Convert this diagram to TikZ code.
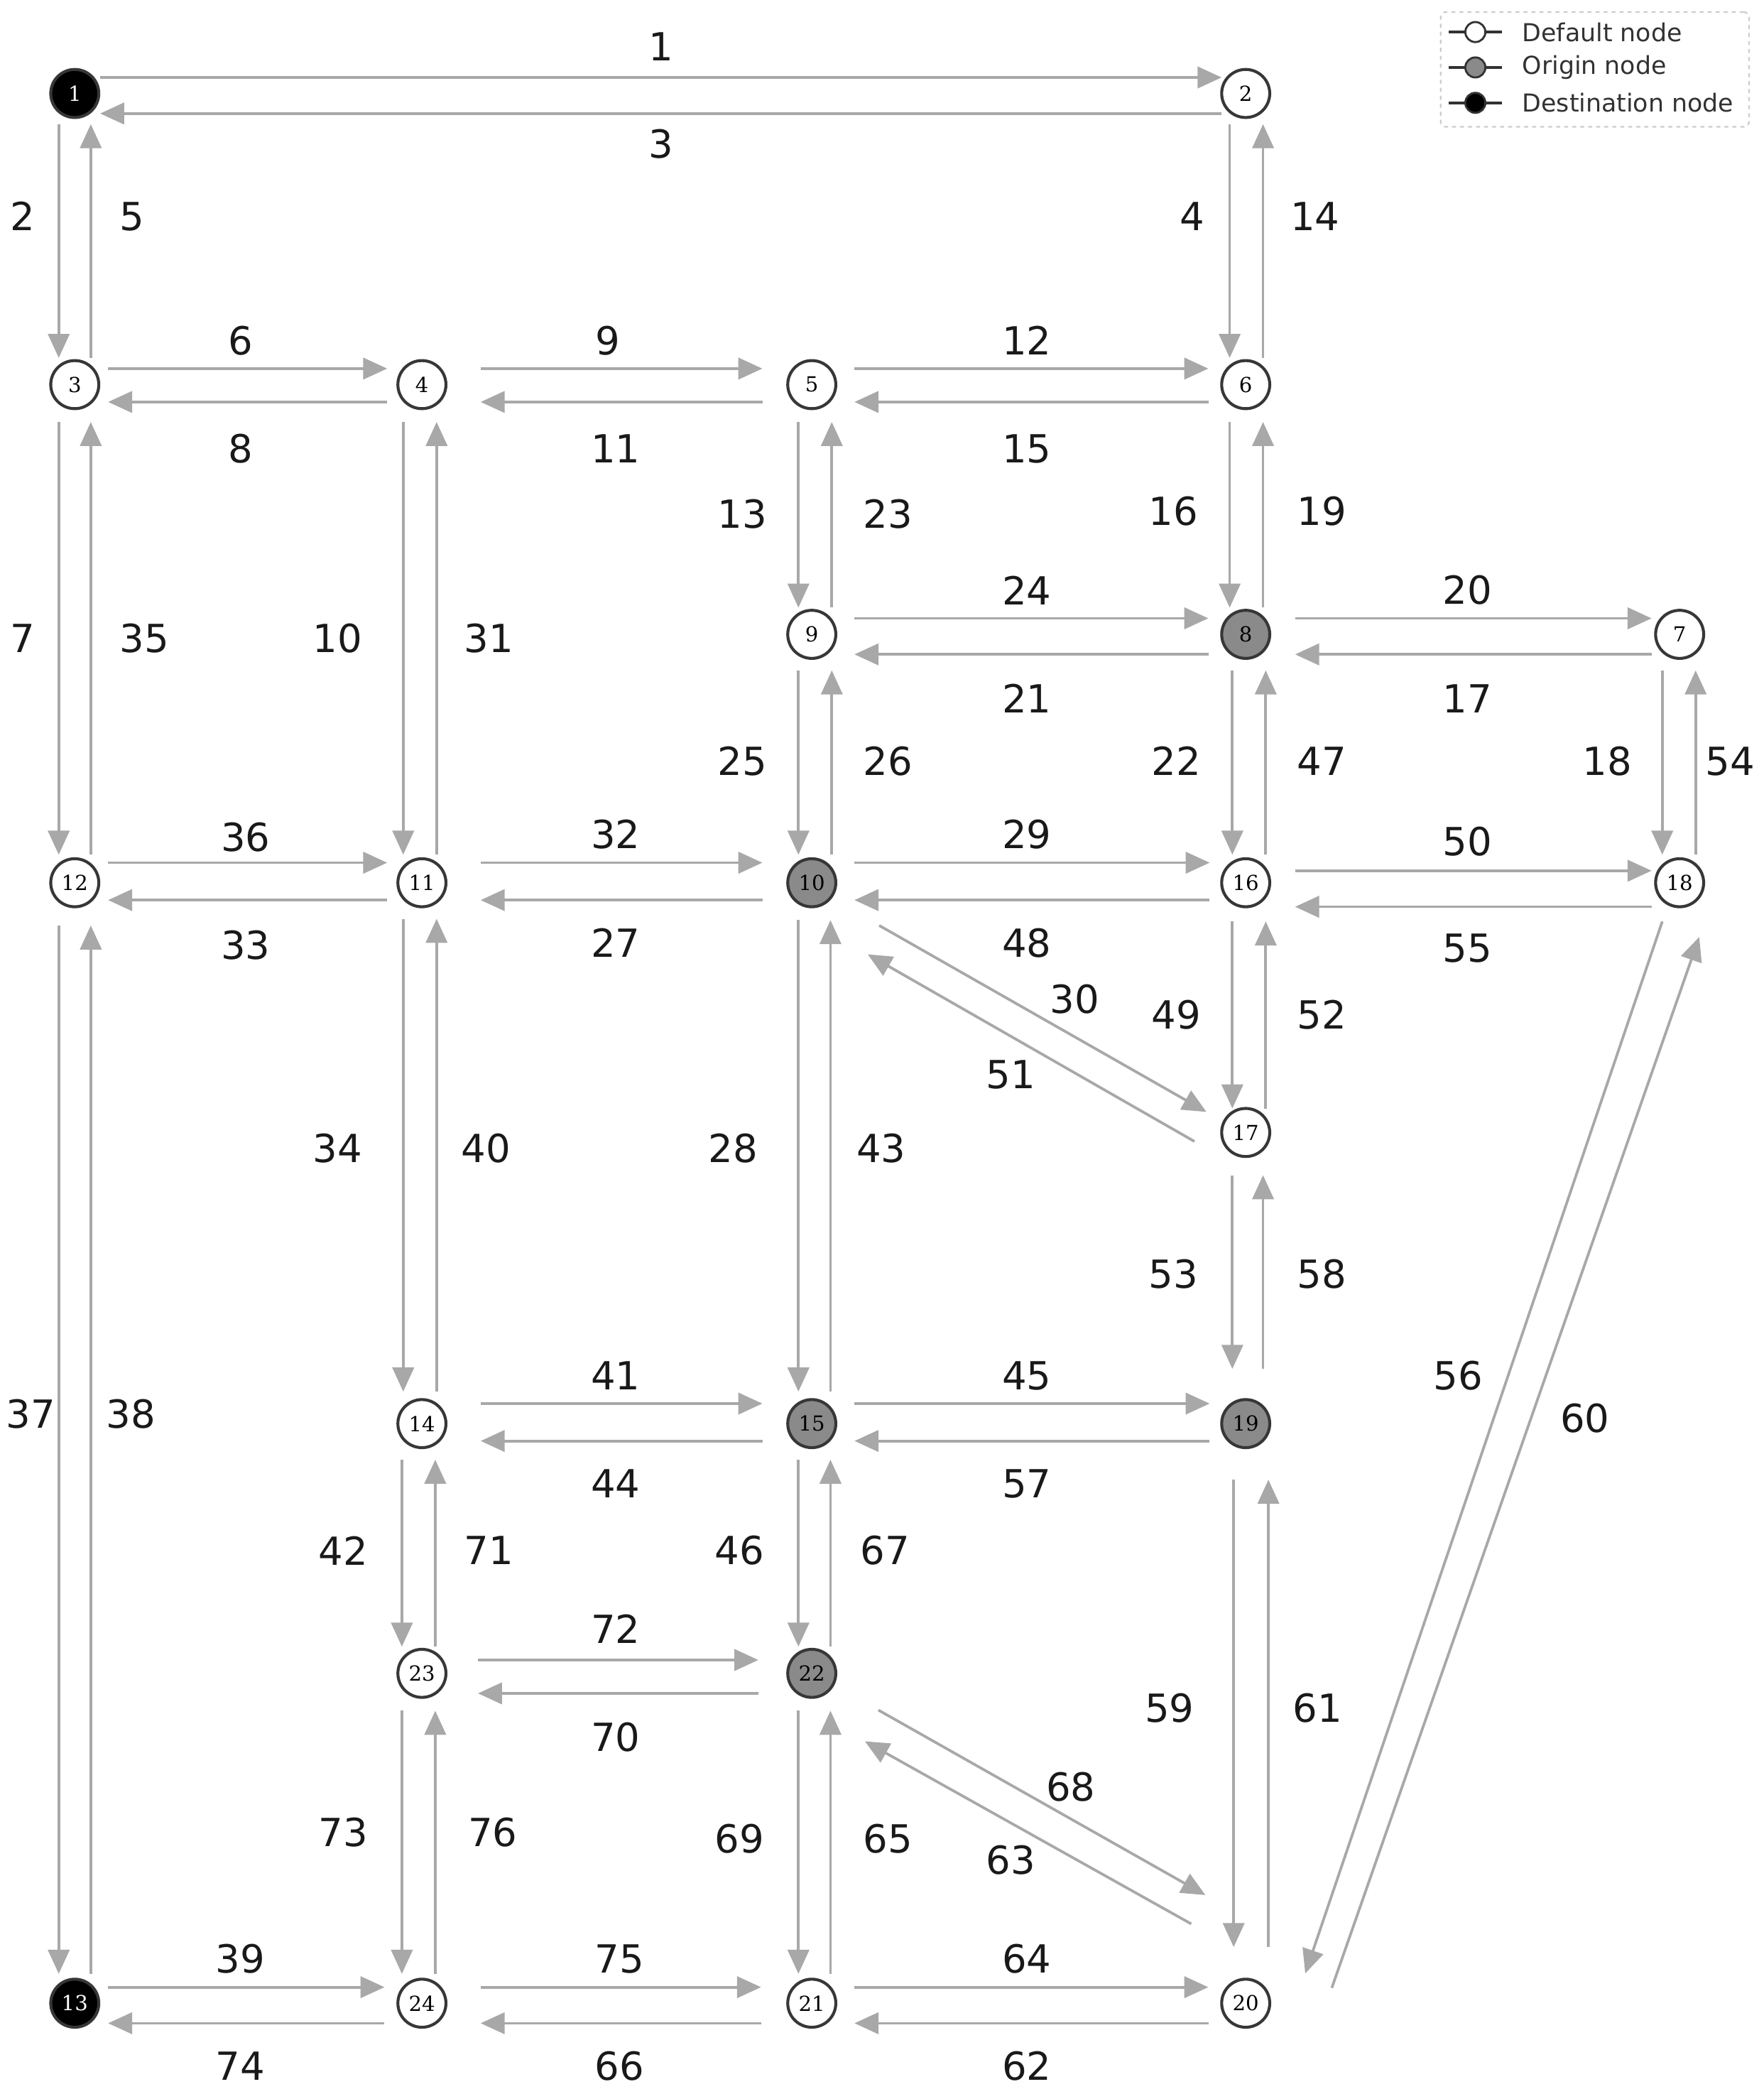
\documentclass[tikz,border=0pt]{standalone}
\usepackage{fontspec}
\setmainfont{DejaVu Sans}
\newfontfamily\nlabfont{DejaVu Serif}
\usetikzlibrary{arrows.meta}
\definecolor{egray}{RGB}{168,168,168}
\definecolor{ndark}{RGB}{55,55,55}
\definecolor{ogray}{RGB}{138,138,138}
\definecolor{ltext}{RGB}{25,25,25}
\definecolor{legtext}{RGB}{50,50,50}
\definecolor{legframe}{RGB}{205,205,205}
% horizontal pair: #1 left node, #2 right node, #3 gap right of left node, #4 gap left of right node, #5 y of rightward edge, #6 y of leftward edge
\newcommand{\HPair}[6]{%
  \draw[edge] ([shift={(#3,#5)}]#1.center) -- ([shift={(-#4,#5)}]#2.center);
  \draw[edge] ([shift={(-#4,#6)}]#2.center) -- ([shift={(#3,#6)}]#1.center);}
% vertical pair: #1 top node, #2 bottom node, #3 gap below top node, #4 gap above bottom node, #5 x of downward edge, #6 x of upward edge
\newcommand{\VPair}[6]{%
  \draw[edge] ([shift={(#5,#3)}]#1.center) -- ([shift={(#5,-#4)}]#2.center);
  \draw[edge] ([shift={(#6,-#4)}]#2.center) -- ([shift={(#6,#3)}]#1.center);}
\begin{document}
\begin{tikzpicture}[x=1pt,y=-1pt,
  edge/.style={draw=egray, line width=2pt, -{Triangle[length=18pt,width=16pt]}, color=egray},
  dnode/.style={circle, draw=ndark, line width=2.2pt, fill=white, minimum size=36pt, inner sep=0pt,
    font=\nlabfont\fontsize{15.5}{15.5}\selectfont, text=black},
  onode/.style={dnode, fill=ogray},
  tnode/.style={dnode, fill=black, text=white},
  elab/.style={inner sep=0pt, font=\fontsize{29}{29}\selectfont, text=ltext},
  legbox/.style={draw=legframe, line width=1.2pt, dashed, rounded corners=4pt, fill=white, inner sep=0pt},
  legline/.style={draw=legtext, line width=2pt},
  legmark/.style={circle, draw=legtext, line width=1.5pt, minimum size=15pt, inner sep=0pt},
  legtxt/.style={anchor=west, inner sep=0pt, font=\fontsize{18.5}{18.5}\selectfont, text=legtext}
]
\useasboundingbox (0,0) rectangle (1321,1568);

% ---------------- nodes ----------------
\node[tnode] (n1)  at (56,70)     {1};
\node[dnode] (n2)  at (933,70)    {2};
\node[dnode] (n3)  at (56,288)    {3};
\node[dnode] (n4)  at (316,288)   {4};
\node[dnode] (n5)  at (608,288)   {5};
\node[dnode] (n6)  at (933,288)   {6};
\node[dnode] (n7)  at (1258,475)  {7};
\node[onode] (n8)  at (933,475)   {8};
\node[dnode] (n9)  at (608,475)   {9};
\node[onode] (n10) at (608,661)   {10};
\node[dnode] (n11) at (316,661)   {11};
\node[dnode] (n12) at (56,661)    {12};
\node[tnode] (n13) at (56,1500)   {13};
\node[dnode] (n14) at (316,1066)  {14};
\node[onode] (n15) at (608,1066)  {15};
\node[dnode] (n16) at (933,661)   {16};
\node[dnode] (n17) at (933,848)   {17};
\node[dnode] (n18) at (1258,661)  {18};
\node[onode] (n19) at (933,1066)  {19};
\node[dnode] (n20) at (933,1500)  {20};
\node[dnode] (n21) at (608,1500)  {21};
\node[onode] (n22) at (608,1253)  {22};
\node[dnode] (n23) at (316,1253)  {23};
\node[dnode] (n24) at (316,1500)  {24};

% ---------------- horizontal links ----------------
\HPair{n1}{n2}{19}{18}{-12}{15}
\HPair{n3}{n4}{25}{26}{-12}{13}
\HPair{n4}{n5}{44}{37}{-12}{13}
\HPair{n5}{n6}{32}{28}{-12}{13}
\HPair{n9}{n8}{32}{28}{-12}{15}
\HPair{n8}{n7}{37}{21}{-12}{15}
\HPair{n12}{n11}{25}{26}{-15}{13}
\HPair{n11}{n10}{44}{37}{-15}{13}
\HPair{n10}{n16}{32}{27}{-15}{13}
\HPair{n16}{n18}{37}{21}{-9}{18}
\HPair{n14}{n15}{44}{37}{-15}{13}
\HPair{n15}{n19}{32}{27}{-15}{13}
\HPair{n23}{n22}{42}{40}{-10}{15}
\HPair{n13}{n24}{25}{28}{-12}{15}
\HPair{n24}{n21}{44}{38}{-12}{15}
\HPair{n21}{n20}{32}{28}{-12}{15}

% ---------------- vertical links ----------------
\VPair{n1}{n3}{23}{20}{-12}{12}
\VPair{n3}{n12}{28}{21}{-12}{12}
\VPair{n12}{n13}{32}{22}{-12}{12}
\VPair{n4}{n11}{28}{21}{-14}{11}
\VPair{n11}{n14}{27}{24}{-14}{11}
\VPair{n14}{n23}{27}{20}{-15}{10}
\VPair{n23}{n24}{28}{22}{-15}{10}
\VPair{n5}{n9}{28}{20}{-10}{15}
\VPair{n9}{n10}{27}{21}{-10}{15}
\VPair{n10}{n15}{28}{24}{-10}{14}
\VPair{n15}{n22}{27}{20}{-10}{14}
\VPair{n22}{n21}{28}{22}{-10}{14}
\VPair{n2}{n6}{23}{20}{-12}{13}
\VPair{n6}{n8}{28}{20}{-12}{13}
\VPair{n8}{n16}{27}{21}{-10}{15}
\VPair{n16}{n17}{29}{18}{-10}{15}
\VPair{n17}{n19}{32}{41}{-10}{13}
\VPair{n19}{n20}{42}{42}{-9}{17}
\VPair{n7}{n18}{27}{21}{-13}{12}

% ---------------- diagonal links ----------------
\draw[edge] ([shift={(50.5,32)}]n10.center) -- ([shift={(-29.4,-15.4)}]n17.center);   % 30
\draw[edge] ([shift={(-38.4,6.7)}]n17.center) -- ([shift={(41.9,53.6)}]n10.center);   % 51
\draw[edge] ([shift={(49.9,27.5)}]n22.center) -- ([shift={(-30.2,-81)}]n20.center);   % 68
\draw[edge] ([shift={(-40.8,-59.4)}]n20.center) -- ([shift={(39.8,50.9)}]n22.center); % 63
\draw[edge] ([shift={(-13,29)}]n18.center) -- ([shift={(44.6,-22.3)}]n20.center);     % 56
\draw[edge] ([shift={(64.5,-11.5)}]n20.center) -- ([shift={(14.7,40.6)}]n18.center);  % 60

% ---------------- link labels ----------------
\node[elab] (l1)  at (495,35)    {1};
\node[elab] (l3)  at (495,108)   {3};
\node[elab] (l2)  at (17,162)    {2};
\node[elab] (l5)  at (99,162)    {5};
\node[elab] (l4)  at (893,162)   {4};
\node[elab] (l14) at (985,162)   {14};
\node[elab] (l6)  at (180,255)   {6};
\node[elab] (l8)  at (180,336)   {8};
\node[elab] (l9)  at (455,255)   {9};
\node[elab] (l11) at (461,336)   {11};
\node[elab] (l12) at (769,255)   {12};
\node[elab] (l15) at (769,336)   {15};
\node[elab] (l13) at (556,385)   {13};
\node[elab] (l23) at (665,385)   {23};
\node[elab] (l16) at (879,383)   {16};
\node[elab] (l19) at (990,383)   {19};
\node[elab] (l24) at (769,442)   {24};
\node[elab] (l21) at (769,523)   {21};
\node[elab] (l20) at (1099,442)  {20};
\node[elab] (l17) at (1099,523)  {17};
\node[elab] (l7)  at (17,478)    {7};
\node[elab] (l35) at (108,478)   {35};
\node[elab] (l10) at (253,478)   {10};
\node[elab] (l31) at (366,478)   {31};
\node[elab] (l25) at (556,570)   {25};
\node[elab] (l26) at (665,570)   {26};
\node[elab] (l22) at (881,570)   {22};
\node[elab] (l47) at (990,570)   {47};
\node[elab] (l18) at (1204,570)  {18};
\node[elab] (l54) at (1296,570)  {54};
\node[elab] (l36) at (184,627)   {36};
\node[elab] (l33) at (184,708)   {33};
\node[elab] (l32) at (461,625)   {32};
\node[elab] (l27) at (461,706)   {27};
\node[elab] (l29) at (769,625)   {29};
\node[elab] (l48) at (769,706)   {48};
\node[elab] (l50) at (1099,630)  {50};
\node[elab] (l55) at (1099,710)  {55};
\node[elab] (l30) at (805,748)   {30};
\node[elab] (l51) at (757,805)   {51};
\node[elab] (l49) at (881,760)   {49};
\node[elab] (l52) at (990,760)   {52};
\node[elab] (l34) at (253,860)   {34};
\node[elab] (l40) at (364,860)   {40};
\node[elab] (l28) at (549,860)   {28};
\node[elab] (l43) at (660,860)   {43};
\node[elab] (l53) at (879,954)   {53};
\node[elab] (l58) at (990,954)   {58};
\node[elab] (l56) at (1092,1030) {56};
\node[elab] (l60) at (1187,1062) {60};
\node[elab] (l37) at (23,1059)   {37};
\node[elab] (l38) at (98,1059)   {38};
\node[elab] (l41) at (461,1030)  {41};
\node[elab] (l44) at (461,1111)  {44};
\node[elab] (l45) at (769,1030)  {45};
\node[elab] (l57) at (769,1111)  {57};
\node[elab] (l42) at (257,1161)  {42};
\node[elab] (l71) at (366,1161)  {71};
\node[elab] (l46) at (554,1161)  {46};
\node[elab] (l67) at (663,1161)  {67};
\node[elab] (l72) at (461,1220)  {72};
\node[elab] (l70) at (461,1301)  {70};
\node[elab] (l59) at (876,1279)  {59};
\node[elab] (l61) at (987,1279)  {61};
\node[elab] (l68) at (802,1338)  {68};
\node[elab] (l63) at (757,1393)  {63};
\node[elab] (l73) at (257,1372)  {73};
\node[elab] (l76) at (369,1372)  {76};
\node[elab] (l69) at (554,1377)  {69};
\node[elab] (l65) at (665,1377)  {65};
\node[elab] (l39) at (180,1467)  {39};
\node[elab] (l74) at (180,1547)  {74};
\node[elab] (l75) at (464,1467)  {75};
\node[elab] (l66) at (464,1547)  {66};
\node[elab] (l64) at (769,1467)  {64};
\node[elab] (l62) at (769,1547)  {62};

% ---------------- legend ----------------
\node[legbox, minimum width=231pt, minimum height=86pt] (legend) at (1194.5,52) {};
\coordinate (la1) at (1085,24);   \coordinate (lb1) at (1125,24);
\coordinate (la2) at (1085,50.5); \coordinate (lb2) at (1125,50.5);
\coordinate (la3) at (1085,77);   \coordinate (lb3) at (1125,77);
\draw[legline] (la1) -- (lb1);
\draw[legline] (la2) -- (lb2);
\draw[legline] (la3) -- (lb3);
\node[legmark, fill=white] (lm1) at (1105,24)   {};
\node[legmark, fill=ogray] (lm2) at (1105,50.5) {};
\node[legmark, fill=black] (lm3) at (1105,77)   {};
\node[legtxt] (lt1) at (1140,24)   {Default node};
\node[legtxt] (lt2) at (1140,50.5) {Origin node};
\node[legtxt] (lt3) at (1140,77)   {Destination node};
\end{tikzpicture}
\end{document}
